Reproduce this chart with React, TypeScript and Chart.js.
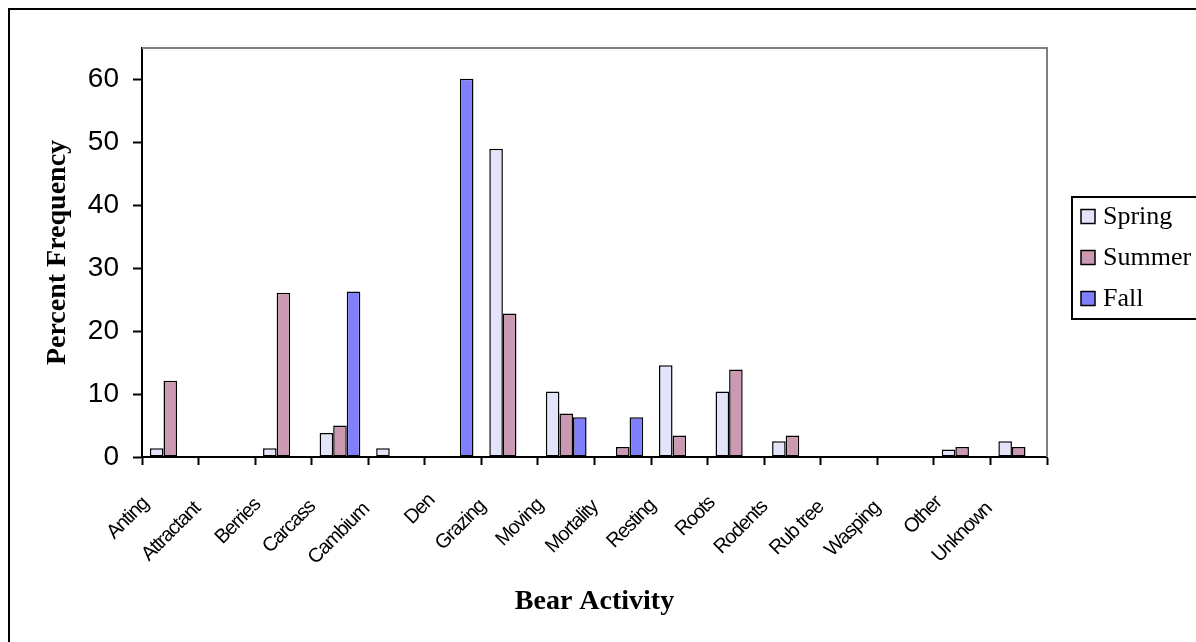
import React, { useEffect, useRef } from "react";
import { Chart, registerables } from "chart.js";
Chart.register(...registerables);

const categories = ["Anting", "Attractant", "Berries", "Carcass", "Cambium", "Den", "Grazing", "Moving", "Mortality", "Resting", "Roots", "Rodents", "Rub tree", "Wasping", "Other", "Unknown"];
const springValues = [1.4, 0, 1.4, 3.8, 1.4, 0, 49.0, 10.4, 0, 14.6, 10.4, 2.5, 0, 0, 1.2, 2.5];
const summerValues = [12.1, 0, 26.1, 5.0, 0, 0, 22.8, 6.9, 1.6, 3.4, 13.9, 3.4, 0, 0, 1.6, 1.6];
const fallValues = [0, 0, 0, 26.3, 0, 60.1, 0, 6.3, 6.3, 0, 0, 0, 0, 0, 0, 0];
const seriesNames = ["Spring", "Summer", "Fall"];
const seriesColors = ["#E3E3FA", "#CC99B3", "#8080FF"];
const yTickValues = [0, 10, 20, 30, 40, 50, 60];
const yMax = 65;

const W = 1196;
const H = 642;

const plotFramePlugin = {
  id: "plotFrame",
  afterDraw(chart: any) {
    const { ctx, chartArea } = chart;
    ctx.save();
    ctx.strokeStyle = "#808080";
    ctx.lineWidth = 2;
    ctx.beginPath();
    ctx.moveTo(chartArea.left, chartArea.top);
    ctx.lineTo(chartArea.right, chartArea.top);
    ctx.lineTo(chartArea.right, chartArea.bottom);
    ctx.stroke();
    ctx.restore();
  },
};

// Excel-like condensed, rotated category labels, placed via the x scale
const xLabelPlugin = {
  id: "xLabels",
  afterDraw(chart: any) {
    const { ctx } = chart;
    const xs = chart.scales.x;
    ctx.save();
    ctx.font = '20px "Liberation Sans", Arial, sans-serif';
    (ctx as any).letterSpacing = "-1.2px";
    ctx.fillStyle = "#000";
    ctx.textAlign = "right";
    ctx.textBaseline = "middle";
    const labels = chart.data.labels as string[];
    labels.forEach((lab, i) => {
      const cx = xs.getPixelForTick(i);
      const w = ctx.measureText(lab).width;
      const shift = 0.2 * (w - 55);
      ctx.save();
      ctx.translate(cx - 26 - shift, xs.top + 45 + shift);
      ctx.rotate(-Math.PI / 4);
      ctx.fillText(lab, 0, 0);
      ctx.restore();
    });
    ctx.restore();
  },
};

const boxLegendPlugin = {
  id: "boxLegend",
  afterDraw(chart: any) {
    const ctx = chart.ctx;
    ctx.save();
    ctx.strokeStyle = "#000";
    ctx.lineWidth = 2;
    ctx.strokeRect(1072, 197, 200, 122);
    chart.data.datasets.forEach((ds: any, i: number) => {
      const cy = 216.5 + i * 41;
      ctx.fillStyle = ds.backgroundColor;
      ctx.fillRect(1081, cy - 7, 14, 14);
      ctx.lineWidth = 1.5;
      ctx.strokeStyle = "#000";
      ctx.strokeRect(1081, cy - 7, 14, 14);
      ctx.font = '26px "Liberation Serif", "Times New Roman", serif';
      ctx.textBaseline = "middle";
      ctx.textAlign = "left";
      ctx.fillStyle = "#000";
      ctx.fillText(ds.label, 1103, cy + 1);
    });
    ctx.restore();
  },
};

export default function App() {
  const canvasRef = useRef<HTMLCanvasElement | null>(null);

  useEffect(() => {
    if (!canvasRef.current) return;
    const valuesList = [springValues, summerValues, fallValues];
    const chart = new Chart(canvasRef.current, {
      type: "bar",
      data: {
        labels: categories,
        datasets: seriesNames.map((name, i) => ({
          label: name,
          data: valuesList[i],
          backgroundColor: seriesColors[i],
          borderColor: "#000",
          borderWidth: 1.5,
          borderSkipped: false,
          categoryPercentage: 0.72,
          barPercentage: 1,
        })),
      },
      options: {
        responsive: false,
        animation: false,
        layout: { padding: { top: 48, right: W - 1047, left: 0, bottom: 0 } },
        plugins: { legend: { display: false }, tooltip: { enabled: false } },
        scales: {
          x: {
            afterFit: (scale: any) => {
              scale.height = H - 457;
            },
            grid: { display: true, drawOnChartArea: false, drawTicks: true, tickLength: 8, tickColor: "#000", tickWidth: 2, offset: true },
            border: { display: true, color: "#000", width: 2 },
            ticks: { display: false, autoSkip: false },
            title: {
              display: true,
              text: "Bear Activity",
              color: "#000",
              font: { family: '"Liberation Serif", "Times New Roman", serif', size: 28, weight: "bold" },
              padding: { top: 0, bottom: 23 },
            },
          },
          y: {
            min: 0,
            max: yMax,
            afterFit: (scale: any) => {
              scale.width = 142;
            },
            afterBuildTicks: (scale: any) => {
              scale.ticks = yTickValues.map((v) => ({ value: v }));
            },
            grid: { display: true, drawOnChartArea: false, drawTicks: true, tickLength: 9, tickColor: "#000", tickWidth: 2 },
            border: { display: true, color: "#000", width: 2 },
            ticks: {
              stepSize: 10,
              color: "#000",
              padding: 14,
              font: { family: '"Liberation Sans", Arial, sans-serif', size: 28 },
            },
            title: {
              display: true,
              text: "Percent Frequency",
              color: "#000",
              font: { family: '"Liberation Serif", "Times New Roman", serif', size: 28, weight: "bold" },
              padding: { top: 41, bottom: 0 },
            },
          },
        },
      },
      plugins: [plotFramePlugin, xLabelPlugin, boxLegendPlugin],
    } as any);
    return () => chart.destroy();
  }, []);

  return (
    <div style={{ position: "fixed", left: 0, top: 0, width: W, height: H, overflow: "hidden", background: "#fff" }}>
      <div style={{ position: "absolute", left: 8, top: 8, width: 1300, height: 800, border: "2px solid #000" }} />
      <canvas ref={canvasRef} width={W} height={H} style={{ position: "absolute", left: 0, top: 0, width: W, height: H }} />
    </div>
  );
}
